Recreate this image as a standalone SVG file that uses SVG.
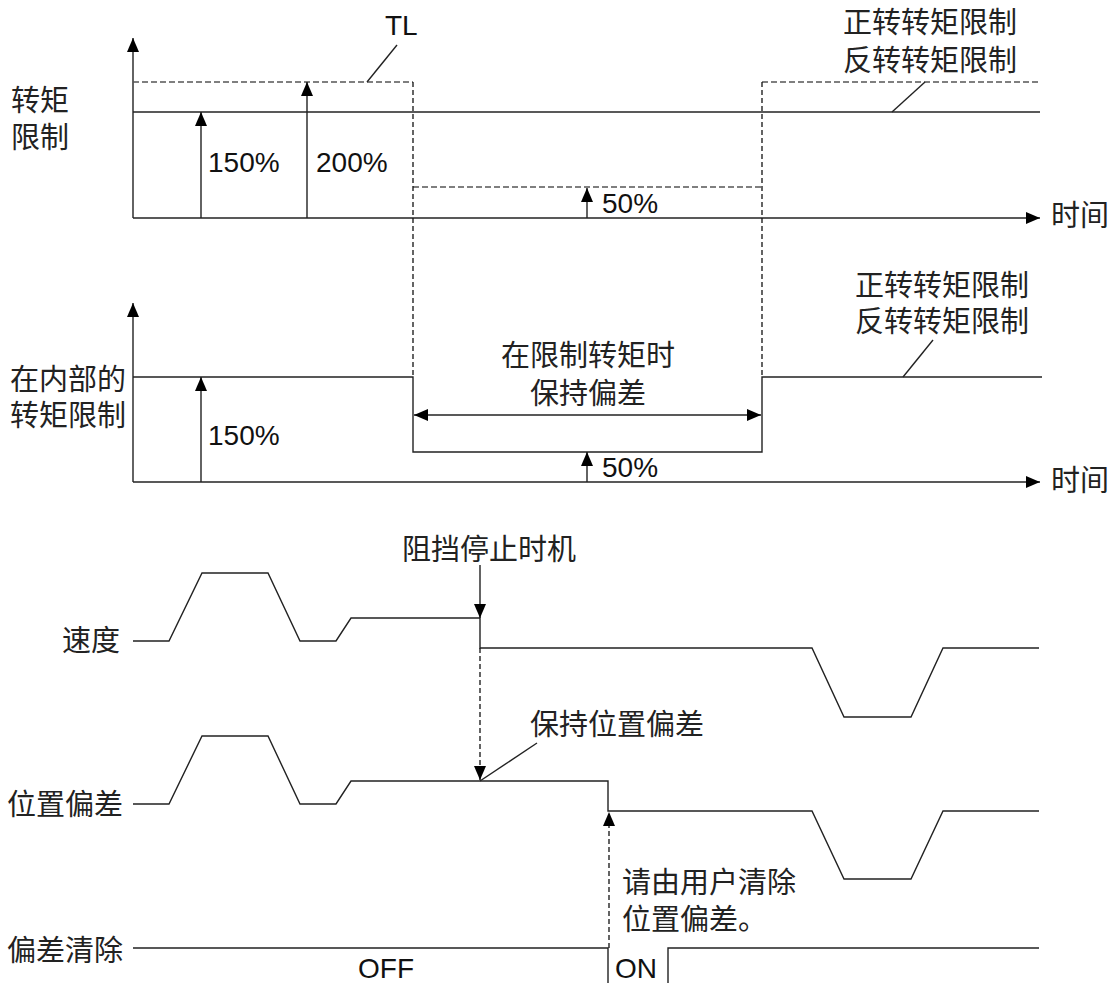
<svg xmlns="http://www.w3.org/2000/svg" width="1113" height="983" viewBox="0 0 1113 983">
<style>
.ln{fill:none;stroke:#222;stroke-width:1.4}
.dh{fill:none;stroke:#555;stroke-width:1.4;stroke-dasharray:6 3}
.dv{fill:none;stroke:#111;stroke-width:1.3;stroke-dasharray:5 3}
.cj{font-family:"Noto Sans CJK SC","Noto Sans CJK JP",sans-serif;font-size:29px;fill:#222}
.lt{font-family:"Liberation Sans",Arial,sans-serif;font-size:28px;fill:#111}
</style>
<defs>
<marker id="ah" viewBox="0 0 14 12" refX="14" refY="6" markerWidth="14" markerHeight="12" markerUnits="userSpaceOnUse" orient="auto-start-reverse">
<path d="M0,0 L14,6 L0,12 z" fill="#000"/>
</marker>
</defs>
<rect width="1113" height="983" fill="#fff"/>

<g id="torque-limit">
<text class="cj" x="11" y="111">转矩</text>
<text class="cj" x="11" y="148">限制</text>
<text class="lt" x="385" y="35">TL</text>
<text class="cj" x="843" y="33">正转转矩限制</text>
<text class="cj" x="843" y="71">反转转矩限制</text>
<text class="lt" x="208" y="172">150%</text>
<text class="lt" x="316" y="172">200%</text>
<text class="lt" x="602" y="213">50%</text>
<text class="cj" x="1051" y="226">时间</text>
</g>

<g id="internal-limit">
<text class="cj" x="10" y="390">在内部的</text>
<text class="cj" x="10" y="426">转矩限制</text>
<text class="cj" x="588" y="366" text-anchor="middle">在限制转矩时</text>
<text class="cj" x="588" y="404" text-anchor="middle">保持偏差</text>
<text class="cj" x="855" y="296">正转转矩限制</text>
<text class="cj" x="855" y="332">反转转矩限制</text>
<text class="lt" x="208" y="445">150%</text>
<text class="lt" x="602" y="477">50%</text>
<text class="cj" x="1051" y="491">时间</text>
</g>

<g id="speed">
<text class="cj" x="62" y="651">速度</text>
<text class="cj" x="402" y="560">阻挡停止时机</text>
<polyline class="ln" points="133,641 169,641 202,573 268,573 300,641 336,641 351,618 480,618 480,648 812,648 844,717 911,717 943,648 1039,648"/>
</g>

<g id="position-deviation">
<text class="cj" x="7" y="815">位置偏差</text>
<text class="cj" x="530" y="735">保持位置偏差</text>
<polyline class="ln" points="133,804 169,804 202,736 268,736 300,804 336,804 351,781 608,781 608,811 812,811 844,879 911,879 943,811 1039,811"/>
</g>

<g id="deviation-clear">
<text class="cj" x="7" y="961">偏差清除</text>
<text class="cj" x="622" y="893">请由用户清除</text>
<text class="cj" x="622" y="930">位置偏差。</text>
<text class="lt" x="358" y="978">OFF</text>
<text class="lt" x="615" y="978">ON</text>
<polyline class="ln" points="133,948 608,948 608,983"/>
<polyline class="ln" points="668,983 668,948 1039,948"/>
</g>

<g id="connectors">
<!-- top chart axes -->
<line class="ln" x1="133" y1="218" x2="133" y2="38" marker-end="url(#ah)"/>
<line class="ln" x1="133" y1="218" x2="1040" y2="218" marker-end="url(#ah)"/>
<line class="ln" x1="133" y1="112" x2="1040" y2="112"/>
<polyline class="dh" points="133,82 413,82"/>
<polyline class="dh" points="413,187 762,187"/>
<polyline class="dh" points="762,82 1041,82"/>
<line class="dv" x1="413" y1="82" x2="413" y2="377"/>
<line class="dv" x1="762" y1="82" x2="762" y2="377"/>
<line class="ln" x1="201" y1="218" x2="201" y2="112" marker-end="url(#ah)"/>
<line class="ln" x1="307" y1="218" x2="307" y2="82" marker-end="url(#ah)"/>
<line class="ln" x1="587" y1="218" x2="587" y2="188" marker-end="url(#ah)"/>
<line class="ln" x1="367" y1="82" x2="397" y2="45"/>
<line class="ln" x1="925" y1="82" x2="892" y2="112"/>
<!-- second chart -->
<line class="ln" x1="133" y1="482" x2="133" y2="303" marker-end="url(#ah)"/>
<line class="ln" x1="133" y1="482" x2="1040" y2="482" marker-end="url(#ah)"/>
<polyline class="ln" points="133,377 413,377 413,452 762,452 762,377 1042,377"/>
<line class="ln" x1="414" y1="415" x2="761" y2="415" marker-start="url(#ah)" marker-end="url(#ah)"/>
<line class="ln" x1="201" y1="482" x2="201" y2="377" marker-end="url(#ah)"/>
<line class="ln" x1="587" y1="482" x2="587" y2="452" marker-end="url(#ah)"/>
<line class="ln" x1="933" y1="340" x2="903" y2="377"/>
<!-- timing -->
<line class="ln" x1="480" y1="565" x2="480" y2="618" marker-end="url(#ah)"/>
<line class="dv" x1="480" y1="648" x2="480" y2="780" marker-end="url(#ah)"/>
<line class="ln" x1="537" y1="743" x2="480" y2="781"/>
<line class="dv" x1="609" y1="948" x2="609" y2="812" marker-end="url(#ah)"/>
</g>
</svg>
